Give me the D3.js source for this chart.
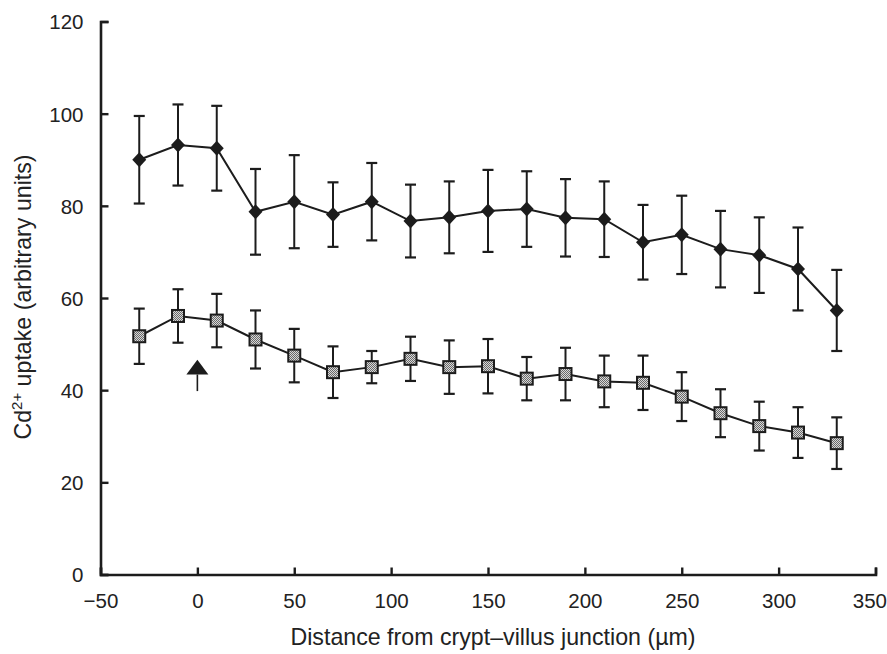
<!DOCTYPE html>
<html><head><meta charset="utf-8">
<script src="https://cdn.jsdelivr.net/npm/d3@7"></script>
<style>body{margin:0;background:#fff}svg{display:block}text{font-family:"Liberation Sans",Arial,sans-serif;fill:#222}</style>
</head><body><svg id="c" width="887" height="654"></svg>
<script>
const distances = [-30,-10,10,30,50,70,90,110,130,150,170,190,210,230,250,270,290,310,330];
const upperMean = [90,93.2,92.5,78.7,80.9,78.1,80.9,76.7,77.5,78.9,79.3,77.4,77.1,72.1,73.7,70.6,69.3,66.3,57.3];
const upperErr  = [9.5,8.8,9.2,9.3,10.1,7.0,8.4,7.9,7.8,8.9,8.2,8.4,8.2,8.1,8.5,8.3,8.2,9.0,8.8];
const lowerMean = [51.7,56.1,55.1,51.0,47.5,43.9,45.0,46.8,45.0,45.2,42.5,43.5,41.9,41.6,38.6,35.0,32.2,30.8,28.5];
const lowerErr  = [6.0,5.8,5.8,6.3,5.8,5.6,3.5,4.8,5.8,5.9,4.7,5.7,5.6,5.9,5.3,5.2,5.3,5.5,5.6];
const xTicks = [-50,0,50,100,150,200,250,300,350];
const yTicks = [0,20,40,60,80,100,120];
const arrowAt = {x:0, tip:46.6, base:43.4, tail:39.8};

const svg = d3.select("#c");
const x = d3.scaleLinear().domain([-50,350]).range([100.5,875.5]);
const y = d3.scaleLinear().domain([0,120]).range([574.5,21.5]);
const ink = "#1c1c1c";

const defs = svg.append("defs");
const pat = defs.append("pattern").attr("id","stip").attr("patternUnits","userSpaceOnUse").attr("width",2).attr("height",2);
pat.append("rect").attr("width",2).attr("height",2).attr("fill","#d8d8d8");
pat.append("rect").attr("width",1).attr("height",1).attr("fill","#6a6a6a");
pat.append("rect").attr("x",1).attr("y",1).attr("width",1).attr("height",1).attr("fill","#6a6a6a");

// axes
const xAxis = svg.append("g").attr("transform",`translate(0,${y(0)})`)
  .call(d3.axisBottom(x).tickValues(xTicks).tickSize(-7).tickPadding(19).tickFormat(d=>d<0?"\u2212"+Math.abs(d):d));
const yAxis = svg.append("g").attr("transform",`translate(${x(-50)},0)`)
  .call(d3.axisLeft(y).tickValues(yTicks).tickSize(-8).tickPadding(17));
[xAxis,yAxis].forEach(g=>{
  g.attr("font-size",20.5).attr("font-family","Liberation Sans, Arial, sans-serif");
  g.select(".domain").attr("stroke",ink).attr("stroke-width",2.6);
  g.selectAll(".tick line").attr("stroke",ink).attr("stroke-width",2.4);
  g.selectAll(".tick text").attr("font-size",20.5).attr("fill","#222");
});
yAxis.selectAll(".tick text").attr("dy","0.36em");
xAxis.selectAll(".tick text").filter(d=>d===350).attr("text-anchor","end").attr("dx",11);

// labels
svg.append("text").attr("x",493).attr("y",645).attr("text-anchor","middle").attr("font-size",23.2)
  .text("Distance from crypt\u2013villus junction (\u00b5m)");
const yl = svg.append("text").attr("transform","translate(31,297) rotate(-90)").attr("text-anchor","middle").attr("font-size",23.2);
yl.append("tspan").text("Cd");
yl.append("tspan").attr("font-size",15).attr("dy",-9).text("2+");
yl.append("tspan").attr("dy",9).text(" uptake (arbitrary units)");

function series(mean, err, kind){
  const g = svg.append("g");
  const pts = distances.map((d,i)=>({d, m:mean[i], e:err[i]}));
  const eb = g.selectAll("g.eb").data(pts).join("g");
  eb.append("line").attr("x1",p=>x(p.d)).attr("x2",p=>x(p.d)).attr("y1",p=>y(p.m+p.e)).attr("y2",p=>y(p.m-p.e)).attr("stroke",ink).attr("stroke-width",2);
  eb.append("line").attr("x1",p=>x(p.d)-5.5).attr("x2",p=>x(p.d)+5.5).attr("y1",p=>y(p.m+p.e)).attr("y2",p=>y(p.m+p.e)).attr("stroke",ink).attr("stroke-width",2.2);
  eb.append("line").attr("x1",p=>x(p.d)-5.5).attr("x2",p=>x(p.d)+5.5).attr("y1",p=>y(p.m-p.e)).attr("y2",p=>y(p.m-p.e)).attr("stroke",ink).attr("stroke-width",2.2);
  g.append("path").datum(pts).attr("fill","none").attr("stroke",ink).attr("stroke-width",2)
    .attr("d",d3.line().x(p=>x(p.d)).y(p=>y(p.m)));
  if(kind==="diamond"){
    g.selectAll("path.mk").data(pts).join("path").attr("class","mk")
      .attr("transform",p=>`translate(${x(p.d)},${y(p.m)})`)
      .attr("d","M0,-7.5L7,0L0,7.5L-7,0Z").attr("fill",ink);
  } else {
    g.selectAll("rect.mk").data(pts).join("rect").attr("class","mk")
      .attr("x",p=>x(p.d)-6).attr("y",p=>y(p.m)-6).attr("width",12).attr("height",12)
      .attr("fill","url(#stip)").attr("stroke",ink).attr("stroke-width",2);
  }
}
series(upperMean, upperErr, "diamond");
series(lowerMean, lowerErr, "square");

// arrow
const ax = x(arrowAt.x);
svg.append("line").attr("x1",ax).attr("x2",ax).attr("y1",y(arrowAt.base)).attr("y2",y(arrowAt.tail)).attr("stroke",ink).attr("stroke-width",1.6);
svg.append("path").attr("d",`M${ax},${y(arrowAt.tip)}L${ax+11},${y(arrowAt.base)}L${ax-11},${y(arrowAt.base)}Z`).attr("fill",ink);
</script></body></html>
